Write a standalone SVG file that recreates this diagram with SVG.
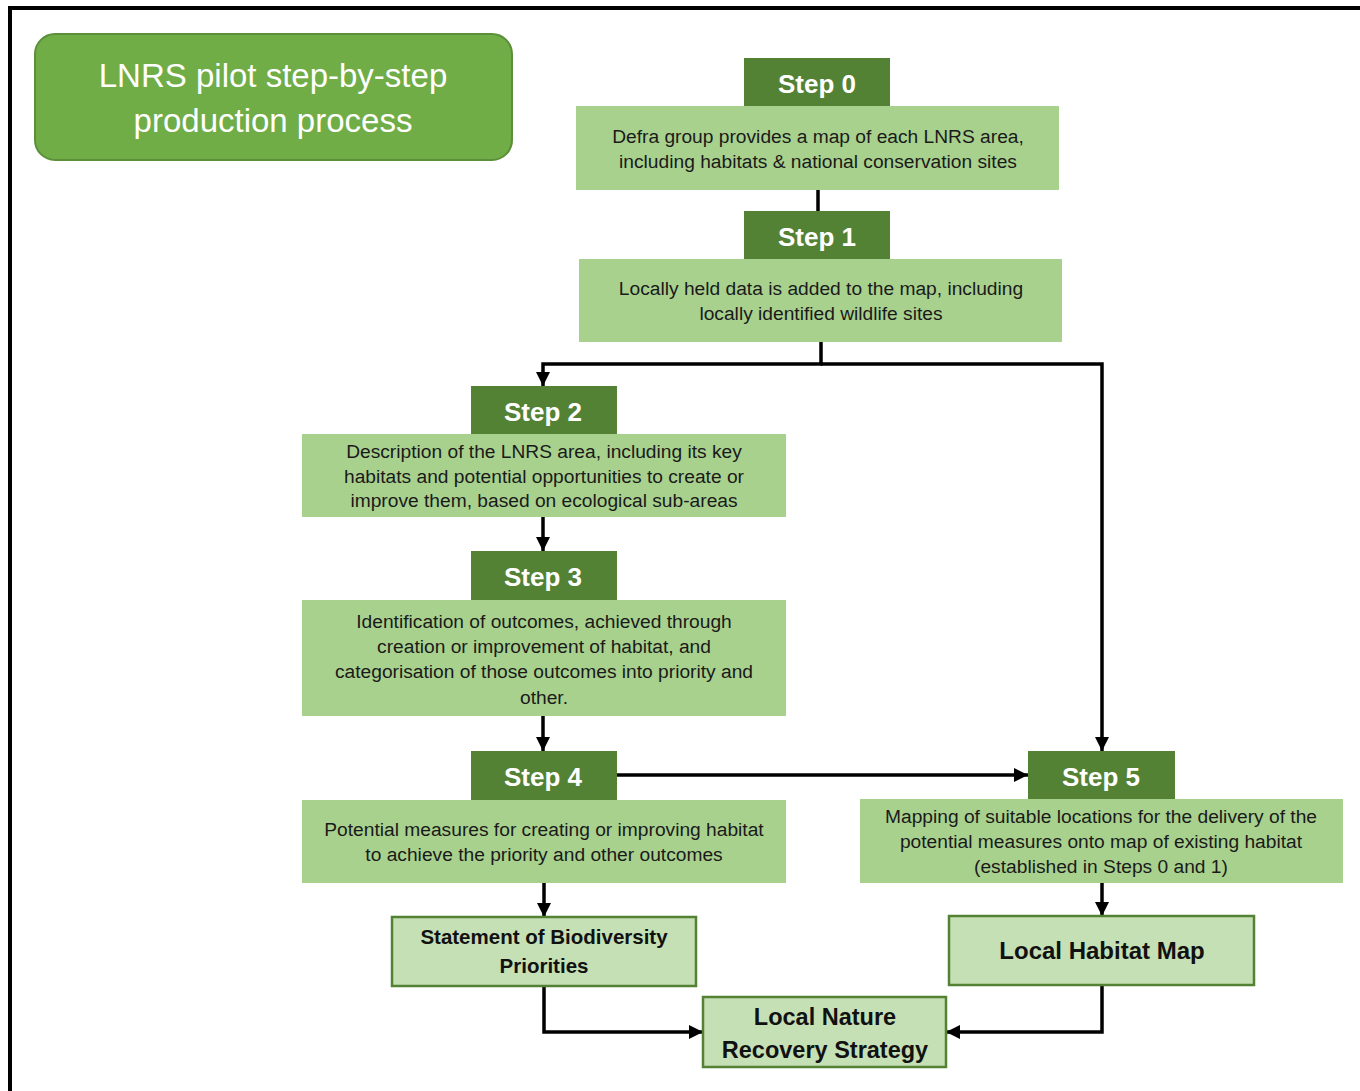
<svg xmlns="http://www.w3.org/2000/svg" width="1360" height="1091" viewBox="0 0 1360 1091">
<style>
.hdr{fill:#548235}
.body{fill:#A9D18E}
.out{fill:#C5E0B4;stroke:#548235;stroke-width:2.5}
.ht{font-family:"Liberation Sans",Arial,sans-serif;font-weight:bold;font-size:26px;fill:#fff;text-anchor:middle}
.bt{font-family:"Liberation Sans",Arial,sans-serif;font-size:19.2px;fill:#1a1a1a;text-anchor:middle}
.ot{font-family:"Liberation Sans",Arial,sans-serif;font-weight:bold;fill:#111;text-anchor:middle}
.tt{font-family:"Liberation Sans",Arial,sans-serif;font-size:33px;fill:#fff;text-anchor:middle}
.c{fill:none;stroke:#000;stroke-width:3.5}
</style>
<defs>
<marker id="ar" viewBox="0 0 10 10" refX="10" refY="5" markerWidth="4" markerHeight="4" orient="auto" markerUnits="strokeWidth">
<path d="M0,0 L10,5 L0,10 Z" fill="#000"/>
</marker>
</defs>
<rect x="0" y="0" width="1360" height="1091" fill="#fff"/>
<path d="M10,1091 V8 H1360" fill="none" stroke="#000" stroke-width="4"/>

<g id="title">
<rect x="35" y="34" width="477" height="126" rx="20" fill="#70AD47" stroke="#5B8F3A" stroke-width="2"/>
<text class="tt" x="273" y="87">LNRS pilot step-by-step</text>
<text class="tt" x="273" y="132">production process</text>
</g>

<g id="connectors">
<path class="c" d="M818,190 V211"/>
<path class="c" d="M821,342 V364 H543 V386" marker-end="url(#ar)"/>
<path class="c" d="M821,364 H1102 V751" marker-end="url(#ar)"/>
<path class="c" d="M543,517 V551" marker-end="url(#ar)"/>
<path class="c" d="M543,716 V751" marker-end="url(#ar)"/>
<path class="c" d="M617,775 H1028" marker-end="url(#ar)"/>
<path class="c" d="M544,883 V917" marker-end="url(#ar)"/>
<path class="c" d="M1102,883 V916" marker-end="url(#ar)"/>
<path class="c" d="M544,986 V1032 H703" marker-end="url(#ar)"/>
<path class="c" d="M1102,985 V1032 H946" marker-end="url(#ar)"/>
</g>

<g id="step0">
<rect class="hdr" x="744" y="58" width="146" height="48"/>
<text class="ht" x="817" y="93">Step 0</text>
<rect class="body" x="576" y="106" width="483" height="84"/>
<text class="bt" x="818" y="143">Defra group provides a map of each LNRS area,</text>
<text class="bt" x="818" y="168">including habitats &amp; national conservation sites</text>
</g>

<g id="step1">
<rect class="hdr" x="744" y="211" width="146" height="48"/>
<text class="ht" x="817" y="246">Step 1</text>
<rect class="body" x="579" y="259" width="483" height="83"/>
<text class="bt" x="821" y="295">Locally held data is added to the map, including</text>
<text class="bt" x="821" y="320">locally identified wildlife sites</text>
</g>

<g id="step2">
<rect class="hdr" x="471" y="386" width="146" height="48"/>
<text class="ht" x="543" y="421">Step 2</text>
<rect class="body" x="302" y="434" width="484" height="83"/>
<text class="bt" x="544" y="458">Description of the LNRS area, including its key</text>
<text class="bt" x="544" y="483">habitats and potential opportunities to create or</text>
<text class="bt" x="544" y="507">improve them, based on ecological sub-areas</text>
</g>

<g id="step3">
<rect class="hdr" x="471" y="551" width="146" height="49"/>
<text class="ht" x="543" y="586">Step 3</text>
<rect class="body" x="302" y="600" width="484" height="116"/>
<text class="bt" x="544" y="628">Identification of outcomes, achieved through</text>
<text class="bt" x="544" y="653">creation or improvement of habitat, and</text>
<text class="bt" x="544" y="678">categorisation of those outcomes into priority and</text>
<text class="bt" x="544" y="704">other.</text>
</g>

<g id="step4">
<rect class="hdr" x="471" y="751" width="146" height="49"/>
<text class="ht" x="543" y="786">Step 4</text>
<rect class="body" x="302" y="800" width="484" height="83"/>
<text class="bt" x="544" y="836">Potential measures for creating or improving habitat</text>
<text class="bt" x="544" y="861">to achieve the priority and other outcomes</text>
</g>

<g id="step5">
<rect class="hdr" x="1028" y="751" width="147" height="48"/>
<text class="ht" x="1101" y="786">Step 5</text>
<rect class="body" x="860" y="799" width="483" height="84"/>
<text class="bt" x="1101" y="823">Mapping of suitable locations for the delivery of the</text>
<text class="bt" x="1101" y="848">potential measures onto map of existing habitat</text>
<text class="bt" x="1101" y="873">(established in Steps 0 and 1)</text>
</g>

<g id="statement">
<rect class="out" x="392" y="917" width="304" height="69"/>
<text class="ot" x="544" y="944" font-size="20.5">Statement of Biodiversity</text>
<text class="ot" x="544" y="973" font-size="20.5">Priorities</text>
</g>

<g id="habitatmap">
<rect class="out" x="949" y="916" width="305" height="69"/>
<text class="ot" x="1102" y="959" font-size="24">Local Habitat Map</text>
</g>

<g id="lnrs">
<rect class="out" x="703" y="997" width="243" height="70"/>
<text class="ot" x="825" y="1025" font-size="23.5">Local Nature</text>
<text class="ot" x="825" y="1058" font-size="23.5">Recovery Strategy</text>
</g>
</svg>
